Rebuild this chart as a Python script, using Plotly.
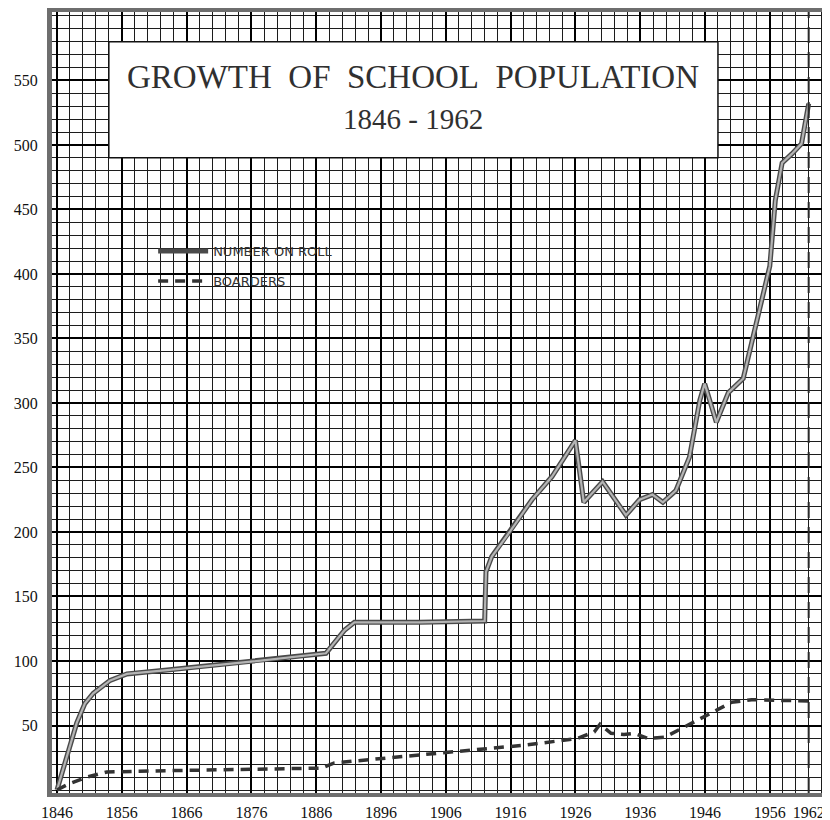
import plotly.graph_objects as go

# ---- data ----
roll_years = [1846, 1847.5, 1849.05, 1850.3, 1851.6, 1854.2, 1856.8, 1863.0, 1875.9, 1887.5,
              1888.8, 1890.4, 1891.9, 1902, 1912.0, 1912.2, 1913.1, 1916.0, 1919.3, 1922.4,
              1926.0, 1927.3, 1930.2, 1933.8, 1935.9, 1937.9, 1939.5, 1941.5, 1943.6, 1945.2,
              1945.95, 1947.75, 1949.6, 1951.9, 1953.4, 1956.0, 1956.85, 1957.9, 1959.4, 1960.9,
              1962]
roll_values = [0, 26, 52, 67, 75, 85, 90, 93, 99.5, 106,
               114, 124, 130, 130, 131, 169, 181, 201, 225, 243,
               271, 223, 239, 213, 225, 229, 223, 232, 258, 302,
               315, 285, 308, 319, 351, 406, 457, 486, 493, 501,
               532]

boarder_years = [1846, 1847.5, 1850.6, 1853.7, 1863, 1886.8, 1888.8, 1901.2, 1918.6, 1926.3,
                 1928.9, 1929.8, 1931.5, 1933.5, 1935.1, 1937.2, 1939.8, 1942.9, 1945.95, 1950.1,
                 1953.2, 1962]
boarder_values = [0, 4, 10, 14, 15, 17, 21, 27, 35, 40,
                  45, 51, 44, 43, 44, 40, 41, 49, 57, 68,
                  70, 69]

x_tick_years = [1846, 1856, 1866, 1876, 1886, 1896, 1906, 1916, 1926, 1936, 1946, 1956, 1962]
y_tick_values = [50, 100, 150, 200, 250, 300, 350, 400, 450, 500, 550]

title_text = "GROWTH\u00a0 OF\u00a0 SCHOOL\u00a0 POPULATION"
subtitle_text = "1846 - 1962"
roll_name = "NUMBER ON ROLL"
boarder_name = "BOARDERS"
end_year = 1962

# ---- figure ----
X_RANGE = [1845.23, 1965.29]
Y_RANGE = [-2.3, 603.0]
serif = "Liberation Serif, Times New Roman, serif"

fig = go.Figure()

# Number on roll: dark outline + light grey core (drawn-pen look)
fig.add_trace(go.Scatter(
    x=roll_years, y=roll_values, mode="lines", name=roll_name,
    line=dict(color="#4a4a4a", width=5), legendgroup="roll", showlegend=True,
    hoverinfo="skip"))
fig.add_trace(go.Scatter(
    x=roll_years, y=roll_values, mode="lines", name=roll_name,
    line=dict(color="#b4b4b4", width=2.2), legendgroup="roll", showlegend=False,
    hoverinfo="skip"))

# Boarders: dashed (on the overlay x-axis, which matches the main one)
fig.add_trace(go.Scatter(
    x=boarder_years, y=boarder_values, mode="lines", name=boarder_name,
    xaxis="x2", yaxis="y",
    line=dict(color="#333333", width=3.5, dash="10px,7px"), legendgroup="board",
    showlegend=True, hoverinfo="skip"))

# Title box (white panel on the graph paper)
fig.add_shape(type="rect", xref="x", yref="y", x0=1854, x1=1948, y0=490, y1=580,
              fillcolor="white", line=dict(color="#111", width=1.5), layer="above")

# dashed end line at 1962
fig.add_shape(type="line", xref="x", yref="paper", x0=end_year, x1=end_year, y0=0, y1=1,
              line=dict(color="#2a2a2a", width=2, dash="16px,9px"), layer="above")

fig.add_annotation(x=1901, y=552.6, xref="x", yref="y", text=title_text, showarrow=False,
                   font=dict(family=serif, size=33, color="#303030"),
                   xanchor="center", yanchor="middle")
fig.add_annotation(x=1901, y=520, xref="x", yref="y", text=subtitle_text, showarrow=False,
                   font=dict(family=serif, size=29, color="#303030"),
                   xanchor="center", yanchor="middle")

# The page body has an 8px default margin, so the figure is 8px smaller than the window.
fig.update_layout(
    width=822, height=812,
    margin=dict(l=44, r=0, t=4, b=27),
    paper_bgcolor="white", plot_bgcolor="white",
    showlegend=True,
    legend=dict(x=0.13, y=0.713, xanchor="left", yanchor="top",
                bgcolor="rgba(0,0,0,0)", traceorder="grouped", tracegroupgap=10,
                font=dict(family="DejaVu Sans", size=13, color="#333"),
                itemwidth=50),
    xaxis=dict(
        range=X_RANGE, tickmode="array", tickvals=x_tick_years,
        ticktext=[str(v) for v in x_tick_years],
        showgrid=False, zeroline=False,
        showline=True, linecolor="#6e6e6e", linewidth=4, mirror=True,
        ticks="outside", ticklen=2, tickcolor="rgba(0,0,0,0)",
        tickfont=dict(family=serif, size=16, color="#111"),
        minor=dict(tickmode="linear", tick0=1846, dtick=2, showgrid=True,
                   gridcolor="#1c1c1c", gridwidth=1, ticks=""),
    ),
    xaxis2=dict(
        range=X_RANGE, overlaying="x", anchor="y", matches="x",
        tickmode="linear", tick0=1846, dtick=10, showticklabels=False,
        showgrid=True, gridcolor="#000", gridwidth=2, zeroline=False, showline=False,
        ticks="",
    ),
    yaxis=dict(
        range=Y_RANGE, tickmode="array", tickvals=y_tick_values,
        ticktext=[str(v) for v in y_tick_values],
        showgrid=True, gridcolor="#000", gridwidth=2, zeroline=False,
        showline=True, linecolor="#6e6e6e", linewidth=5, mirror=False,
        ticks="outside", ticklen=6, tickcolor="rgba(0,0,0,0)",
        tickfont=dict(family=serif, size=16, color="#111"),
        minor=dict(tickmode="linear", tick0=0, dtick=10, showgrid=True,
                   gridcolor="#1c1c1c", gridwidth=1, ticks=""),
    ),
)

fig.write_html("out.html")
